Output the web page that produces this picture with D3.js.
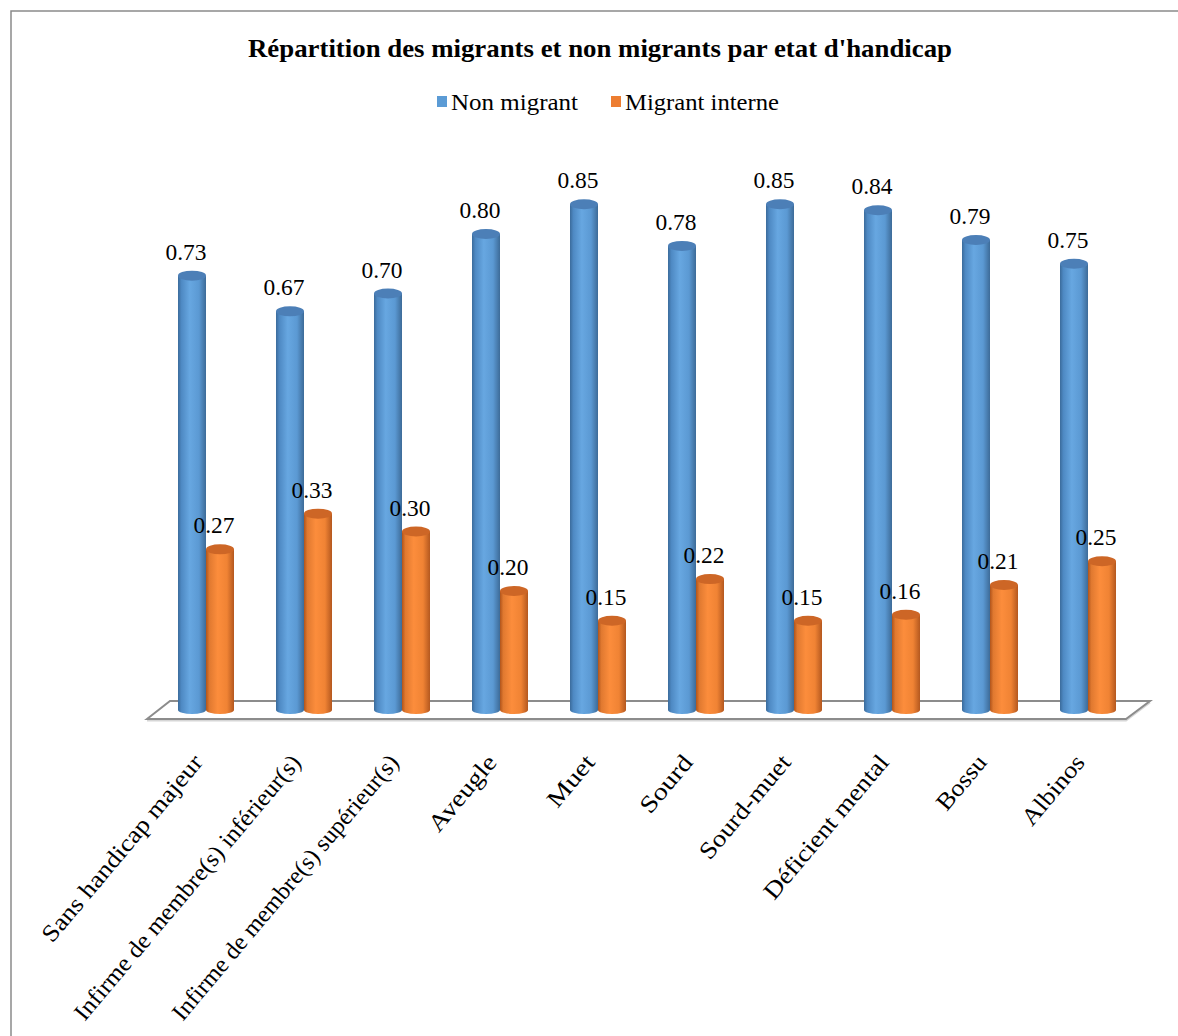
<!DOCTYPE html>
<html>
<head>
<meta charset="utf-8">
<script src="https://cdn.jsdelivr.net/npm/d3@7"></script>
<style>
  html, body { margin: 0; padding: 0; background: #fff; }
  svg text { font-family: "Liberation Serif", "Times New Roman", serif; fill: #000; }
</style>
</head>
<body>
<svg id="chart" width="1178" height="1036"></svg>
<script>
const categories = ["Sans handicap majeur", "Infirme de membre(s) inférieur(s)", "Infirme de membre(s) supérieur(s)", "Aveugle", "Muet", "Sourd", "Sourd-muet", "Déficient mental", "Bossu", "Albinos"];
const nonMigrant = [0.73, 0.67, 0.70, 0.80, 0.85, 0.78, 0.85, 0.84, 0.79, 0.75];
const migrantInterne = [0.27, 0.33, 0.30, 0.20, 0.15, 0.22, 0.15, 0.16, 0.21, 0.25];
const seriesNames = ["Non migrant", "Migrant interne"];
const valueLabels = { "Non migrant": nonMigrant, "Migrant interne": migrantInterne };
const titleText = "Répartition des migrants et non migrants par etat d'handicap";

const FONT = "'Liberation Serif', 'Times New Roman', serif";
const svg = d3.select("#chart");
const W = 1178, H = 1036;

// frame (left and top border only visible)
svg.append("path")
  .attr("d", `M11,${H} L11,11 L${W},11`)
  .attr("fill", "none").attr("stroke", "#8a8a8a").attr("stroke-width", 1.5);

const x = d3.scaleBand().domain(categories).range([157, 1137]).paddingInner(0).paddingOuter(0);
const xs = d3.scaleBand().domain(seriesNames).range([21, 77]);
const y = d3.scaleLinear().domain([0, 1]).range([710, 115]);

// gradients
const defs = svg.append("defs");
function grad(id, stops) {
  const g = defs.append("linearGradient").attr("id", id).attr("x1", "0").attr("x2", "1").attr("y1", "0").attr("y2", "0");
  stops.forEach(s => g.append("stop").attr("offset", s[0]).attr("stop-color", s[1]));
}
grad("gBlue", [[0, "#3b6b9b"], [0.12, "#4e89c3"], [0.42, "#67a7e1"], [0.75, "#5b99d3"], [1, "#3d6b98"]]);
grad("gOrange", [[0, "#b0541b"], [0.12, "#e07930"], [0.42, "#fc8d3c"], [0.75, "#f08334"], [1, "#b4581f"]]);
const colors = {
  "Non migrant": { body: "url(#gBlue)", top: "#4c7fb7", legend: "#5b9bd5" },
  "Migrant interne": { body: "url(#gOrange)", top: "#cd6626", legend: "#ed7d31" }
};

// floor
const floor = svg.append("g");
const x0 = x.range()[0], x1 = x.range()[1];
const backY = 701, frontY = 719;
floor.append("path")
  .attr("d", `M${x0 - 10},${frontY + 1.5} L${x1 - 11},${frontY + 1.5} L${x1 + 13},${backY + 1.5}`)
  .attr("fill", "none").attr("stroke", "#d6d6d6").attr("stroke-width", 2);
floor.append("path")
  .attr("d", `M${x0 - 10},${frontY} L${x0 + 13},${backY} L${x1 + 13},${backY} L${x1 - 11},${frontY} Z`)
  .attr("fill", "none").attr("stroke", "#8c8c8c").attr("stroke-width", 2);

// bars
const rows = [];
categories.forEach((c, i) => {
  seriesNames.forEach(s => rows.push({ cat: c, series: s, value: valueLabels[s][i] }));
});

const bars = svg.append("g").selectAll("g.bar").data(rows).join("g").attr("class", "bar");
bars.each(function (d) {
  const g = d3.select(this);
  const bx = x(d.cat) + xs(d.series);
  const w = xs.bandwidth();
  const yt = y(d.value), yb = y(0);
  const rx = w / 2;
  g.append("path")
    .attr("d", `M${bx},${yt} L${bx},${yb} A${rx},4 0 0 0 ${bx + w},${yb} L${bx + w},${yt} Z`)
    .attr("fill", colors[d.series].body);
  g.append("ellipse")
    .attr("cx", bx + rx).attr("cy", yt).attr("rx", rx).attr("ry", 5)
    .attr("fill", colors[d.series].top);
  g.append("text")
    .attr("x", bx + rx - 6).attr("y", yt - 16)
    .attr("text-anchor", "middle")
    .attr("font-family", FONT)
    .attr("font-size", 23)
    .attr("textLength", 41).attr("lengthAdjust", "spacingAndGlyphs")
    .text(d3.format(".2f")(d.value));
});

// category labels
const labelLens = { "Sans handicap majeur": 236, "Infirme de membre(s) inférieur(s)": 338, "Infirme de membre(s) supérieur(s)": 338, "Aveugle": 92, "Muet": 60, "Sourd": 68, "Sourd-muet": 128, "Déficient mental": 180, "Bossu": 64, "Albinos": 84 };
svg.append("g").selectAll("text.cat").data(categories).join("text")
  .attr("class", "cat")
  .attr("transform", d => `translate(${x(d) + x.bandwidth() / 2 - 2},763) rotate(-50)`)
  .attr("text-anchor", "end")
  .attr("font-family", FONT)
  .attr("font-size", 24)
  .attr("textLength", d => labelLens[d]).attr("lengthAdjust", "spacingAndGlyphs")
  .text(d => d);

// title
svg.append("text")
  .attr("x", 600).attr("y", 57)
  .attr("text-anchor", "middle")
  .attr("font-family", FONT)
  .attr("font-size", 26).attr("font-weight", "bold")
  .attr("textLength", 704).attr("lengthAdjust", "spacingAndGlyphs")
  .text(titleText);

// legend
const legendPos = [{ s: "Non migrant", sx: 437, tx: 451, len: 127 }, { s: "Migrant interne", sx: 611, tx: 625, len: 154 }];
const lg = svg.append("g");
legendPos.forEach(l => {
  lg.append("rect").attr("x", l.sx).attr("y", 96).attr("width", 10).attr("height", 11).attr("fill", colors[l.s].legend);
  lg.append("text").attr("x", l.tx).attr("y", 110)
    .attr("font-family", FONT).attr("font-size", 23)
    .attr("textLength", l.len).attr("lengthAdjust", "spacingAndGlyphs")
    .text(l.s);
});
</script>
</body>
</html>
